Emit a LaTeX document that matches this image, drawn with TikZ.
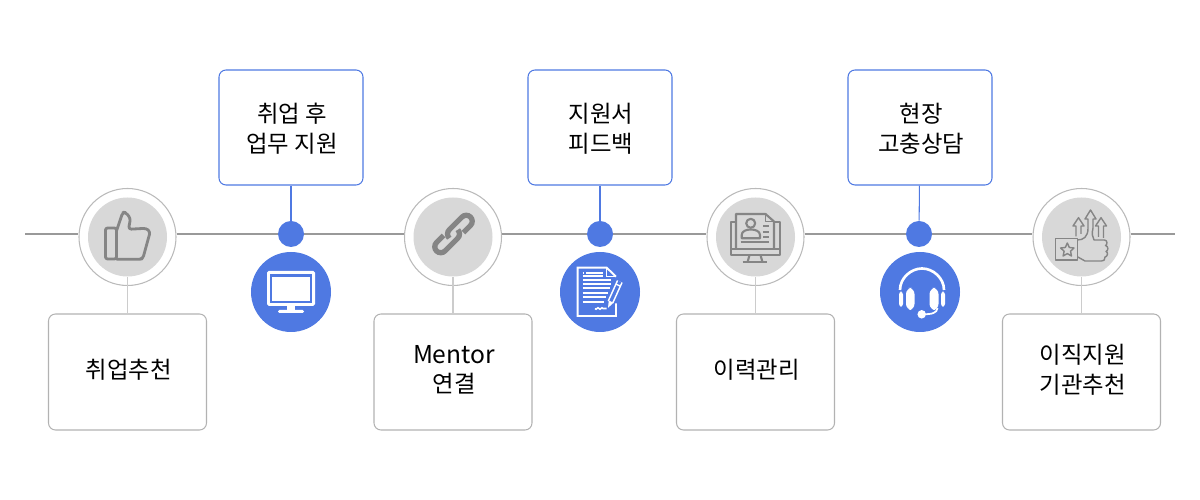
\documentclass[tikz,border=0pt]{standalone}
\usepackage{fontspec}
\setmainfont{Noto Sans CJK KR}
\usepackage{xcolor}
\usetikzlibrary{calc}
\definecolor{markblue}{HTML}{4F79E2}
\definecolor{iconGray}{HTML}{858585}
\definecolor{discGray}{HTML}{D8D8D8}
\tikzset{
	topbox/.style={draw=markblue,line width=.6pt,rounded corners=.14cm,minimum width=2.88cm,minimum height=2.3cm,inner sep=0pt},
	botbox/.style={draw=black!30,line width=.6pt,rounded corners=.14cm,minimum width=3.16cm,minimum height=2.32cm,inner sep=0pt},
	toptext/.style={align=center,inner sep=0pt,font=\fontsize{13.3}{17}\selectfont,xshift=.02cm,yshift=-.02cm},
	bottext/.style={align=center,inner sep=0pt,font=\fontsize{13.3}{17}\selectfont,xshift=.02cm,yshift=.045cm},
	ringnode/.style={circle,draw=black!27,fill=white,line width=.6pt,minimum size=1.94cm,inner sep=0pt},
	discnode/.style={circle,fill=discGray,minimum size=1.58cm,inner sep=0pt},
	dotnode/.style={circle,fill=markblue,minimum size=.52cm,inner sep=0pt},
	badgenode/.style={circle,fill=markblue,minimum size=1.6cm,inner sep=0pt},
	linegray/.style={draw=black!40,line width=.6pt},
	stemgray/.style={draw=black!20,line width=.6pt},
	stemblue/.style={draw=markblue,line width=.6pt},
	icongray/.style={draw=iconGray,line width=1.6pt,line join=round,line cap=round},
	iconthin/.style={draw=iconGray,line width=1.2pt,line join=round},
	iconfine/.style={draw=iconGray,line width=.8pt,line join=round},
	iconwhite/.style={draw=white,line width=1.1pt,line join=miter},
	pxscope/.style={x=.02cm,y=-.02cm,shift={(#1)}}
}
\begin{document}
\begin{tikzpicture}
	\useasboundingbox (0,0) rectangle (24,10);
	\coordinate (lineL) at (.5,5.32);
	\coordinate (lineR) at (23.5,5.32);

	\node[ringnode] (ring1) at (2.55,5.26) {};
	\node[ringnode] (ring2) at (9.06,5.26) {};
	\node[ringnode] (ring3) at (15.11,5.26) {};
	\node[ringnode] (ring4) at (21.63,5.26) {};
	\node[discnode] (disc1) at (ring1) {};
	\node[discnode] (disc2) at (ring2) {};
	\node[discnode] (disc3) at (ring3) {};
	\node[discnode] (disc4) at (ring4) {};
	\node[dotnode] (dot1) at (5.82,5.32) {};
	\node[dotnode] (dot2) at (12,5.32) {};
	\node[dotnode] (dot3) at (18.38,5.32) {};
	\node[badgenode] (badge1) at (5.82,4.16) {};
	\node[badgenode] (badge2) at (12,4.16) {};
	\node[badgenode] (badge3) at (18.4,4.16) {};

	\node[topbox] (top1) at (5.82,7.45) {};
	\node[topbox] (top2) at (12,7.45) {};
	\node[topbox] (top3) at (18.4,7.45) {};
	\node[botbox] (bot1) at (2.55,2.56) {};
	\node[botbox] (bot2) at (9.06,2.56) {};
	\node[botbox] (bot3) at (15.11,2.56) {};
	\node[botbox] (bot4) at (21.63,2.56) {};
	\node[toptext] (toptxt1) at (top1) {취업 후\\업무 지원};
	\node[toptext] (toptxt2) at (top2) {지원서\\피드백};
	\node[toptext] (toptxt3) at (top3) {현장\\고충상담};
	\node[bottext] (bottxt1) at (bot1) {취업추천};
	\node[bottext] (bottxt2) at (bot2) {{\fontsize{14}{17}\selectfont Mentor}\\연결};
	\node[bottext] (bottxt3) at (bot3) {이력관리};
	\node[bottext] (bottxt4) at (bot4) {이직지원\\기관추천};

	% time line
	\draw[linegray] (lineL) -- (ring1.west |- lineL);
	\draw[linegray] (ring1.east |- lineL) -- (dot1);
	\draw[linegray] (dot1) -- (ring2.west |- lineL);
	\draw[linegray] (ring2.east |- lineL) -- (dot2);
	\draw[linegray] (dot2) -- (ring3.west |- lineL);
	\draw[linegray] (ring3.east |- lineL) -- (dot3);
	\draw[linegray] (dot3) -- (ring4.west |- lineL);
	\draw[linegray] (ring4.east |- lineL) -- (lineR);
	\draw[stemblue] (top1) -- (dot1);
	\draw[stemblue] (top2) -- (dot2);
	\draw[stemblue] (top3) -- (dot3);
	\draw[stemgray] (disc1) -- (bot1);
	\draw[stemgray] (disc2) -- (bot2);
	\draw[stemgray] (disc3) -- (bot3);
	\draw[stemgray] (disc4) -- (bot4);

	% thumb
	\begin{scope}[pxscope=ring1]
		\draw[icongray,rounded corners=1.2pt] (-22,-9) rectangle (-11,22);
		\draw[icongray,rounded corners=1.6pt] (-10.7,-7) -- (-4.7,-24.7) -- (-1.7,-24.5) -- (3,-18.7) -- (1,-7.7) -- (18.7,-8.7) -- (22.7,-5.3) -- (15.3,21.7) -- (12,22.3) -- (-10.7,22.3);
	\end{scope}

	% link
	\begin{scope}[shift={($(ring2)+(.01,.06)$)},rotate=45,x=.02cm,y=.02cm]
		\draw[draw=iconGray,line width=3pt,line cap=butt] (8,-6) -- (18,-6) arc (-90:90:.12cm) -- (0,6) arc (90:180:.12cm);
		\draw[draw=iconGray,line width=3pt,line cap=butt] (-8,6) -- (-18,6) arc (90:270:.12cm) -- (0,-6) arc (-90:0:.12cm);
	\end{scope}

	% resume on screen
	\begin{scope}[pxscope=ring3]
		\draw[iconthin] (-19.5,-15.3) -- (-24.8,-15.3) -- (-24.8,18) -- (24.5,18) -- (24.5,-15.3) -- (18.5,-15.3);
		\draw[iconthin] (-24.8,12.3) -- (24.5,12.3);
		\draw[iconthin] (-19.5,12.3) -- (-19.5,-23) -- (10,-23) -- (18.5,-15.5) -- (18.5,12.3);
		\draw[iconfine] (10,-23) -- (10,-15.5) -- (18.5,-15.5);
		\draw[iconthin] (-4.8,-13.7) circle (.09cm);
		\draw[iconthin] (-13.8,1.3) -- (-13.8,-2) .. controls (-13.8,-6) and (-9,-7.5) .. (-4.8,-7.5) .. controls (-.5,-7.5) and (4.5,-6) .. (4.5,-2) -- (4.5,1.3) -- cycle;
		\draw[iconthin] (7.8,-11.3) -- (13.8,-11.3);
		\draw[iconthin] (7.8,-5.3) -- (13.8,-5.3);
		\draw[iconthin] (7.8,.3) -- (13.8,.3);
		\draw[iconthin] (-14.8,5.3) -- (13.8,5.3);
		\draw[iconthin] (-6,18) -- (-8,25.3);
		\draw[iconthin] (5,18) -- (7,25.3);
		\draw[iconthin] (-12.8,25.3) -- (11.8,25.3);
	\end{scope}

	% thumb with arrows
	\begin{scope}[pxscope=ring4]
		\draw[iconfine] (-25.8,1.3) rectangle (-4.2,23);
		\draw[iconfine] (-14.2,6) -- (-12.2,10.5) -- (-7.5,11) -- (-11,14.2) -- (-10,19) -- (-14.2,16.6) -- (-18.4,19) -- (-17.4,14.2) -- (-20.9,11) -- (-16.2,10.5) -- cycle;
		\draw[iconfine] (-4.2,3) .. controls (2,3) and (6.5,0) .. (6.5,-9);
		\draw[iconfine] (11.5,-9) .. controls (10,-3) and (11,0) .. (12.5,3) -- (23,3) .. controls (26,3) and (26,8) .. (24,8.5) .. controls (27,9) and (27,14) .. (24.5,14.5) .. controls (27,15) and (26,20) .. (23.5,20) .. controls (24,23) and (22,24) .. (20,24) -- (3.5,24) -- (-4.2,19.7);
		\draw[iconfine] (6.5,-9) -- (6.5,-18) -- (3.5,-18) -- (9,-27) -- (14.5,-18) -- (11.5,-18) -- (11.5,-9);
		\draw[iconfine] (-5.5,-.5) -- (-5.5,-11) -- (-8.5,-11) -- (-3,-19.3) -- (2.5,-11) -- (-.5,-11) -- (-.5,-3);
		\draw[iconfine] (17,0) -- (17,-11) -- (14,-11) -- (19.5,-19.3) -- (25,-11) -- (22,-11) -- (22,1);
	\end{scope}

	% monitor
	\begin{scope}[pxscope=badge1]
		\fill[white,rounded corners=1pt] (-24,-21) rectangle (24,14);
		\fill[markblue] (-21,-18) rectangle (21,11);
		\fill[white] (-18.7,-15.3) rectangle (18.7,8.7);
		\fill[white] (-4,14) rectangle (4,18);
		\fill[white,rounded corners=.8pt] (-13,18) rectangle (13,21);
	\end{scope}

	% document and pencil
	\begin{scope}[pxscope=badge2]
		\draw[iconwhite] (16,11.3) -- (16,24) -- (-22.3,24) -- (-22.3,-24.3) -- (6.7,-24.3) -- (16,-15.3);
		\draw[iconwhite,line width=.8pt] (6.7,-24.3) -- (6.7,-15.3) -- (16,-15.3);
		\draw[iconwhite] (-17.5,-19.3) -- (-16,-19.3);
		\draw[iconwhite] (-14,-19.3) -- (2.5,-19.3);
		\draw[iconwhite] (-17.5,-16) -- (2.5,-16);
		\draw[iconwhite] (-17.5,-12) -- (11,-12);
		\draw[iconwhite] (-17.5,-8) -- (11,-8);
		\draw[iconwhite] (-17.5,-3.7) -- (10,-3.7);
		\draw[iconwhite] (-17.5,.7) -- (8,.7);
		\draw[iconwhite] (-17.5,5.3) -- (6,5.3);
		\draw[iconwhite] (-17.5,9.7) -- (4,9.7);
		\draw[white,line width=.9pt] (-5,16.5) .. controls (-3.5,19) and (-2.5,14) .. (-1,16.5) .. controls (.5,19) and (1.5,14) .. (3,16.5) -- (6.7,16.5);
		\draw[white,line width=3.6pt] (10.5,10) -- (19.8,-10.5);
		\draw[markblue,line width=1.8pt] (10.5,10) -- (19.8,-10.5);
		\fill[white] (8,15.8) -- (8.8,8.5) -- (13.5,10.8) -- cycle;
		\draw[white,line width=.8pt] (16.2,-7.8) -- (20.8,-5.6);
	\end{scope}

	% headset
	\begin{scope}[pxscope=badge3]
		\draw[white,line width=1.5pt] (-20,-2) .. controls (-20,-14) and (-9,-23.5) .. (2,-23.5) .. controls (13,-23.5) and (24,-14) .. (24,-2);
		\fill[white,rounded corners=3.5pt] (-14,-4) rectangle (-5.5,18);
		\fill[white,rounded corners=3.5pt] (9.5,-4) rectangle (18.5,18);
		\fill[white,rounded corners=1.6pt] (-21,-.3) rectangle (-17,14.7);
		\fill[white,rounded corners=1.6pt] (21,-.3) rectangle (25,14.7);
		\draw[white,line width=1pt] (17.5,16) .. controls (17,21) and (12,22.3) .. (3,22.3);
		\fill[white] (1.7,22.3) circle (.085cm);
	\end{scope}
\end{tikzpicture}
\end{document}
